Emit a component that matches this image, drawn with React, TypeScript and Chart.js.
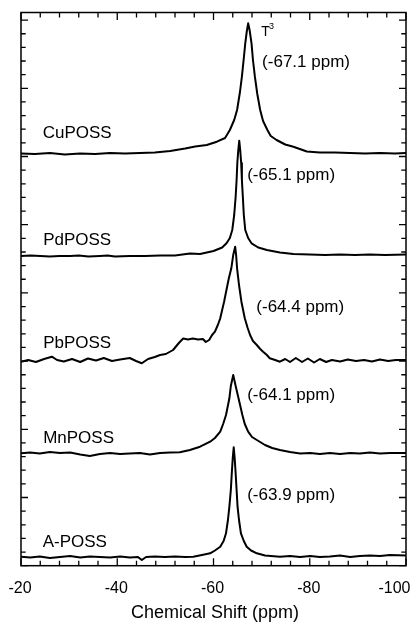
import React, { useEffect, useRef } from 'react';
import { Chart, registerables } from 'chart.js';

Chart.register(...registerables);

// ---- data (chemical shift in ppm, intensity in arbitrary stacked units) ----
const sampleNames = ['CuPOSS', 'PdPOSS', 'PbPOSS', 'MnPOSS', 'A-POSS'];
const peakLabels = ['(-67.1 ppm)', '(-65.1 ppm)', '(-64.4 ppm)', '(-64.1 ppm)', '(-63.9 ppm)'];
const xTickValues = [-20, -40, -60, -80, -100];
const xTickLabels = ['-20', '-40', '-60', '-80', '-100'];
const xTitle = 'Chemical Shift (ppm)';
const peakAssignment = 'T';
const peakAssignmentSup = '3';

const cuPpm = [-20, -22.9, -26, -29.1, -32.3, -35.4, -38.5, -41.6, -44.7, -47.8, -51, -54.1, -56.2, -58.6, -60.7, -62.4, -63.4, -64.3, -64.9, -65.5, -65.9, -66.3, -66.6, -66.9, -67.2, -67.5, -67.9, -68.2, -68.6, -69.1, -69.7, -70.3, -71.2, -71.9, -73.1, -74.9, -76.6, -79.4, -82.1, -85.2, -88.4, -91.5, -94.6, -97.7, -100];
const cuInt = [412.2, 411.7, 412.7, 411.2, 412.2, 411.7, 412.7, 412.2, 412.7, 413.2, 414.7, 417.2, 419.2, 420.7, 424, 427.7, 435.7, 445.7, 455.7, 473.7, 489, 507.7, 522.4, 533.7, 542.4, 535.7, 522.4, 505.7, 489, 471.7, 455.7, 444.7, 435.7, 429.7, 425.7, 421.2, 419, 414.2, 413.2, 413.2, 412.7, 412.2, 412.7, 412.2, 412.7];

const pdPpm = [-20, -22, -24, -26, -28, -30.2, -32, -34, -36.4, -38, -39.5, -42.6, -45.8, -48.9, -52, -55.1, -57.2, -60, -61.8, -62.7, -63.4, -63.9, -64.3, -64.6, -64.8, -64.95, -65.15, -65.35, -65.55, -65.75, -65.9, -66.1, -66.3, -66.6, -67.2, -67.9, -69.3, -71.1, -73.8, -76.6, -80, -83.2, -86.3, -89.4, -92.5, -95.6, -100];
const pdInt = [309.7, 310.2, 309.7, 309.2, 309.7, 309.7, 310.2, 309.2, 309.7, 310.2, 309.2, 309.7, 309.7, 310.2, 310.2, 312.2, 311.7, 314.7, 318.2, 322.4, 327.7, 335.7, 350.7, 368.7, 385.7, 402.7, 415.7, 425, 415.7, 402.7, 385.7, 368.7, 350.7, 335.7, 327.7, 322.4, 318.2, 315.7, 313.2, 311.7, 311.2, 310.7, 311.2, 310.7, 311.2, 310.7, 311.2];

const pbPpm = [-20, -21.5, -23.1, -24.8, -26.4, -27.5, -28.9, -30.6, -32.3, -33.9, -35.6, -37.2, -38.9, -40.6, -42.6, -43.9, -45.1, -46.4, -47.8, -48.9, -50.1, -51.6, -52.8, -53.7, -54.7, -55.7, -56.8, -57.8, -58.4, -59.1, -59.7, -60.3, -60.9, -61.4, -61.8, -62.2, -62.9, -63.2, -63.7, -64.1, -64.5, -64.7, -64.9, -65.3, -65.8, -66.5, -67.1, -67.6, -68.2, -69, -69.7, -70.3, -71.1, -71.7, -72.8, -73.8, -74.9, -75.9, -77.1, -78.4, -79.6, -80.9, -82.1, -83.4, -84.6, -86.3, -87.9, -89.6, -91.3, -92.9, -94.6, -96.3, -97.9, -100];
const pbInt = [204, 205.7, 203.7, 206.7, 209, 205.7, 204.2, 206.7, 203.7, 207.2, 205.2, 207.7, 204.7, 206.2, 207.7, 204.7, 202.4, 206.7, 208.7, 210.7, 211.7, 215.7, 222.7, 227.2, 226.2, 227.2, 226.2, 226.7, 223.7, 225.7, 230.7, 234, 240.7, 247.4, 255.7, 264, 280.7, 287.7, 297.4, 310.7, 319, 310.7, 297.4, 280.7, 264, 247.4, 237.7, 230.7, 224.7, 220.7, 216.7, 214, 210.7, 207.4, 205.7, 204, 206.7, 203.7, 207.7, 203.7, 207.2, 203.2, 206.7, 203.7, 205.7, 204.2, 206.2, 204.7, 205.7, 204.2, 206.2, 204.7, 205.7, 205.7];

const mnPpm = [-20, -21.9, -23.9, -26, -28.1, -30.2, -32.3, -34.3, -36.4, -38.5, -40.6, -42.6, -44.7, -46.8, -48.9, -51, -53, -55.1, -57.2, -59.3, -60.3, -61.4, -62, -62.6, -63.3, -63.6, -64.1, -64.6, -65.2, -66, -66.5, -67.2, -68, -69, -70.7, -72.2, -73.8, -75.9, -78, -80.1, -82.1, -84.2, -86.3, -88.4, -90.4, -92.5, -94.6, -96.7, -100];
const mnInt = [112.4, 113.2, 112.2, 113.7, 112.7, 113.2, 111.2, 109.7, 111.7, 112.7, 111.7, 112.2, 112.7, 111.2, 112.7, 113.2, 113.4, 115.7, 119, 124, 127.7, 134, 141.7, 150.7, 167.4, 179.7, 190.7, 179.7, 167.4, 150.7, 141.7, 134, 128.7, 125.7, 120.7, 117.7, 115.7, 113.7, 112.2, 112.7, 111.7, 112.7, 111.7, 112.7, 112.2, 113.2, 112.2, 112.7, 112.7];

const aPpm = [-20, -21.9, -23.9, -26, -28.1, -30.2, -32.3, -34.3, -36.4, -38.5, -40.6, -42.6, -44.3, -45.1, -46, -47.8, -49.9, -52, -54.1, -55.8, -57.6, -59.3, -60.3, -61.4, -62.1, -62.6, -63, -63.3, -63.6, -63.8, -64, -64.2, -64.4, -64.6, -64.8, -65, -65.3, -65.7, -66.3, -66.9, -67.8, -69, -70.7, -73.8, -75.9, -78, -80.1, -82.1, -84.2, -86.3, -88.4, -90.4, -92.5, -94.6, -96.7, -100];
const aInt = [9, 8.2, 9.2, 7.7, 8.7, 9.7, 8.2, 9.2, 8.7, 8.2, 9.2, 8.2, 8.7, 5.7, 8.7, 9.2, 8.7, 9.2, 8.7, 9, 10.7, 12.4, 15.2, 19, 24.7, 32.4, 45.7, 59, 75.7, 92.4, 107.7, 118.4, 107.7, 92.4, 75.7, 59, 45.7, 32.4, 24.7, 19, 15.2, 12.4, 10.2, 9, 9.7, 8.7, 9.7, 8.7, 9.2, 10.2, 8.7, 9.7, 10.2, 9.7, 10.7, 10.2];

// ---- axis settings ----
const X_MIN = -100;
const X_MAX = -20;
const X_MINOR_STEP = 4;
const X_MAJOR_STEP = 20;
const Y_MAX = 553.2;
const Y_MINOR_STEP = 13.64;
const Y_MAJOR_EVERY = 5;

// label anchors in data coordinates (ppm, intensity)
const nameAnchors = [
  { x: -24.5, y: 427.4 },
  { x: -24.6, y: 320.7 },
  { x: -24.6, y: 217.4 },
  { x: -24.6, y: 122.4 },
  { x: -24.5, y: 19 },
];
const peakLabelAnchors = [
  { x: -70.1, y: 498.7 },
  { x: -67.0, y: 386.2 },
  { x: -68.9, y: 253.7 },
  { x: -67.0, y: 166.2 },
  { x: -67.0, y: 65.7 },
];
const assignmentAnchor = { x: -69.9, y: 530.2 };
const assignmentSupAnchor = { x: -71.55, y: 536.7 };

const FONT = '"Liberation Sans", Arial, Helvetica, sans-serif';

const series = [
  [cuPpm, cuInt],
  [pdPpm, pdInt],
  [pbPpm, pbInt],
  [mnPpm, mnInt],
  [aPpm, aInt],
];

const framePlugin = {
  id: 'frameTicksLabels',
  afterDraw(chart: any) {
    const { ctx, chartArea: a, scales } = chart;
    const xs = scales.x;
    const ys = scales.y;
    ctx.save();
    ctx.strokeStyle = '#000';
    ctx.fillStyle = '#000';
    ctx.lineWidth = 1.5;
    ctx.strokeRect(a.left, a.top, a.right - a.left, a.bottom - a.top);

    ctx.lineWidth = 1.3;
    ctx.beginPath();
    for (let v = X_MAX; v >= X_MIN - 1e-6; v -= X_MINOR_STEP) {
      const px = xs.getPixelForValue(v);
      const len = Math.abs(v % X_MAJOR_STEP) < 1e-6 ? 7.5 : 5;
      ctx.moveTo(px, a.bottom);
      ctx.lineTo(px, a.bottom - len);
      ctx.moveTo(px, a.top);
      ctx.lineTo(px, a.top + len);
    }
    for (let k = 0; k * Y_MINOR_STEP <= Y_MAX + 1e-6; k++) {
      const py = ys.getPixelForValue(k * Y_MINOR_STEP);
      const len = k % Y_MAJOR_EVERY === 0 ? 7 : 4.7;
      ctx.moveTo(a.left, py);
      ctx.lineTo(a.left + len, py);
      ctx.moveTo(a.right, py);
      ctx.lineTo(a.right - len, py);
    }
    ctx.stroke();

    // x tick labels
    ctx.font = `16px ${FONT}`;
    ctx.textBaseline = 'alphabetic';
    ctx.textAlign = 'left';
    xTickValues.forEach((v, i) => {
      const px = xs.getPixelForValue(v);
      const w = ctx.measureText(xTickLabels[i]).width;
      let left = px - w / 2 - 1;
      if (left + w > chart.width - 3.5) left = chart.width - 3.5 - w;
      ctx.fillText(xTickLabels[i], left, a.bottom + 27.3);
    });

    // axis title
    ctx.font = `18px ${FONT}`;
    ctx.textAlign = 'center';
    ctx.fillText(xTitle, (a.left + a.right) / 2 + 1.5, a.bottom + 52.3);

    // sample names and peak positions
    ctx.textAlign = 'left';
    ctx.font = `17px ${FONT}`;
    sampleNames.forEach((n, i) => {
      ctx.fillText(n, xs.getPixelForValue(nameAnchors[i].x), ys.getPixelForValue(nameAnchors[i].y));
    });
    peakLabels.forEach((n, i) => {
      ctx.fillText(n, xs.getPixelForValue(peakLabelAnchors[i].x), ys.getPixelForValue(peakLabelAnchors[i].y));
    });
    ctx.font = `14px ${FONT}`;
    ctx.fillText(peakAssignment, xs.getPixelForValue(assignmentAnchor.x), ys.getPixelForValue(assignmentAnchor.y));
    ctx.font = `9px ${FONT}`;
    ctx.fillText(peakAssignmentSup, xs.getPixelForValue(assignmentSupAnchor.x), ys.getPixelForValue(assignmentSupAnchor.y));
    ctx.restore();
  },
};

export default function App() {
  const ref = useRef<HTMLCanvasElement>(null);
  useEffect(() => {
    if (!ref.current) return;
    const chart = new Chart(ref.current, {
      type: 'line',
      data: {
        datasets: series.map(([px, iy], i) => ({
          label: sampleNames[i],
          data: px.map((x, j) => ({ x, y: iy[j] })),
          borderColor: '#000',
          borderWidth: 2,
          pointRadius: 0,
          tension: 0,
          fill: false,
          borderJoinStyle: 'round' as const,
        })),
      },
      options: {
        animation: false,
        responsive: false,
        devicePixelRatio: 1,
        layout: { padding: { left: 21, right: 8, top: 12.5, bottom: 57.3 } },
        plugins: { legend: { display: false }, tooltip: { enabled: false } },
        scales: {
          x: { type: 'linear', min: X_MIN, max: X_MAX, reverse: true, display: false },
          y: { type: 'linear', min: 0, max: Y_MAX, display: false },
        },
      },
      plugins: [framePlugin],
    });
    return () => chart.destroy();
  }, []);
  return (
    <div style={{ position: 'absolute', left: 0, top: 0, width: 414, height: 623, background: '#fff' }}>
      <canvas ref={ref} width={414} height={623} style={{ display: 'block', width: 414, height: 623 }} />
    </div>
  );
}
